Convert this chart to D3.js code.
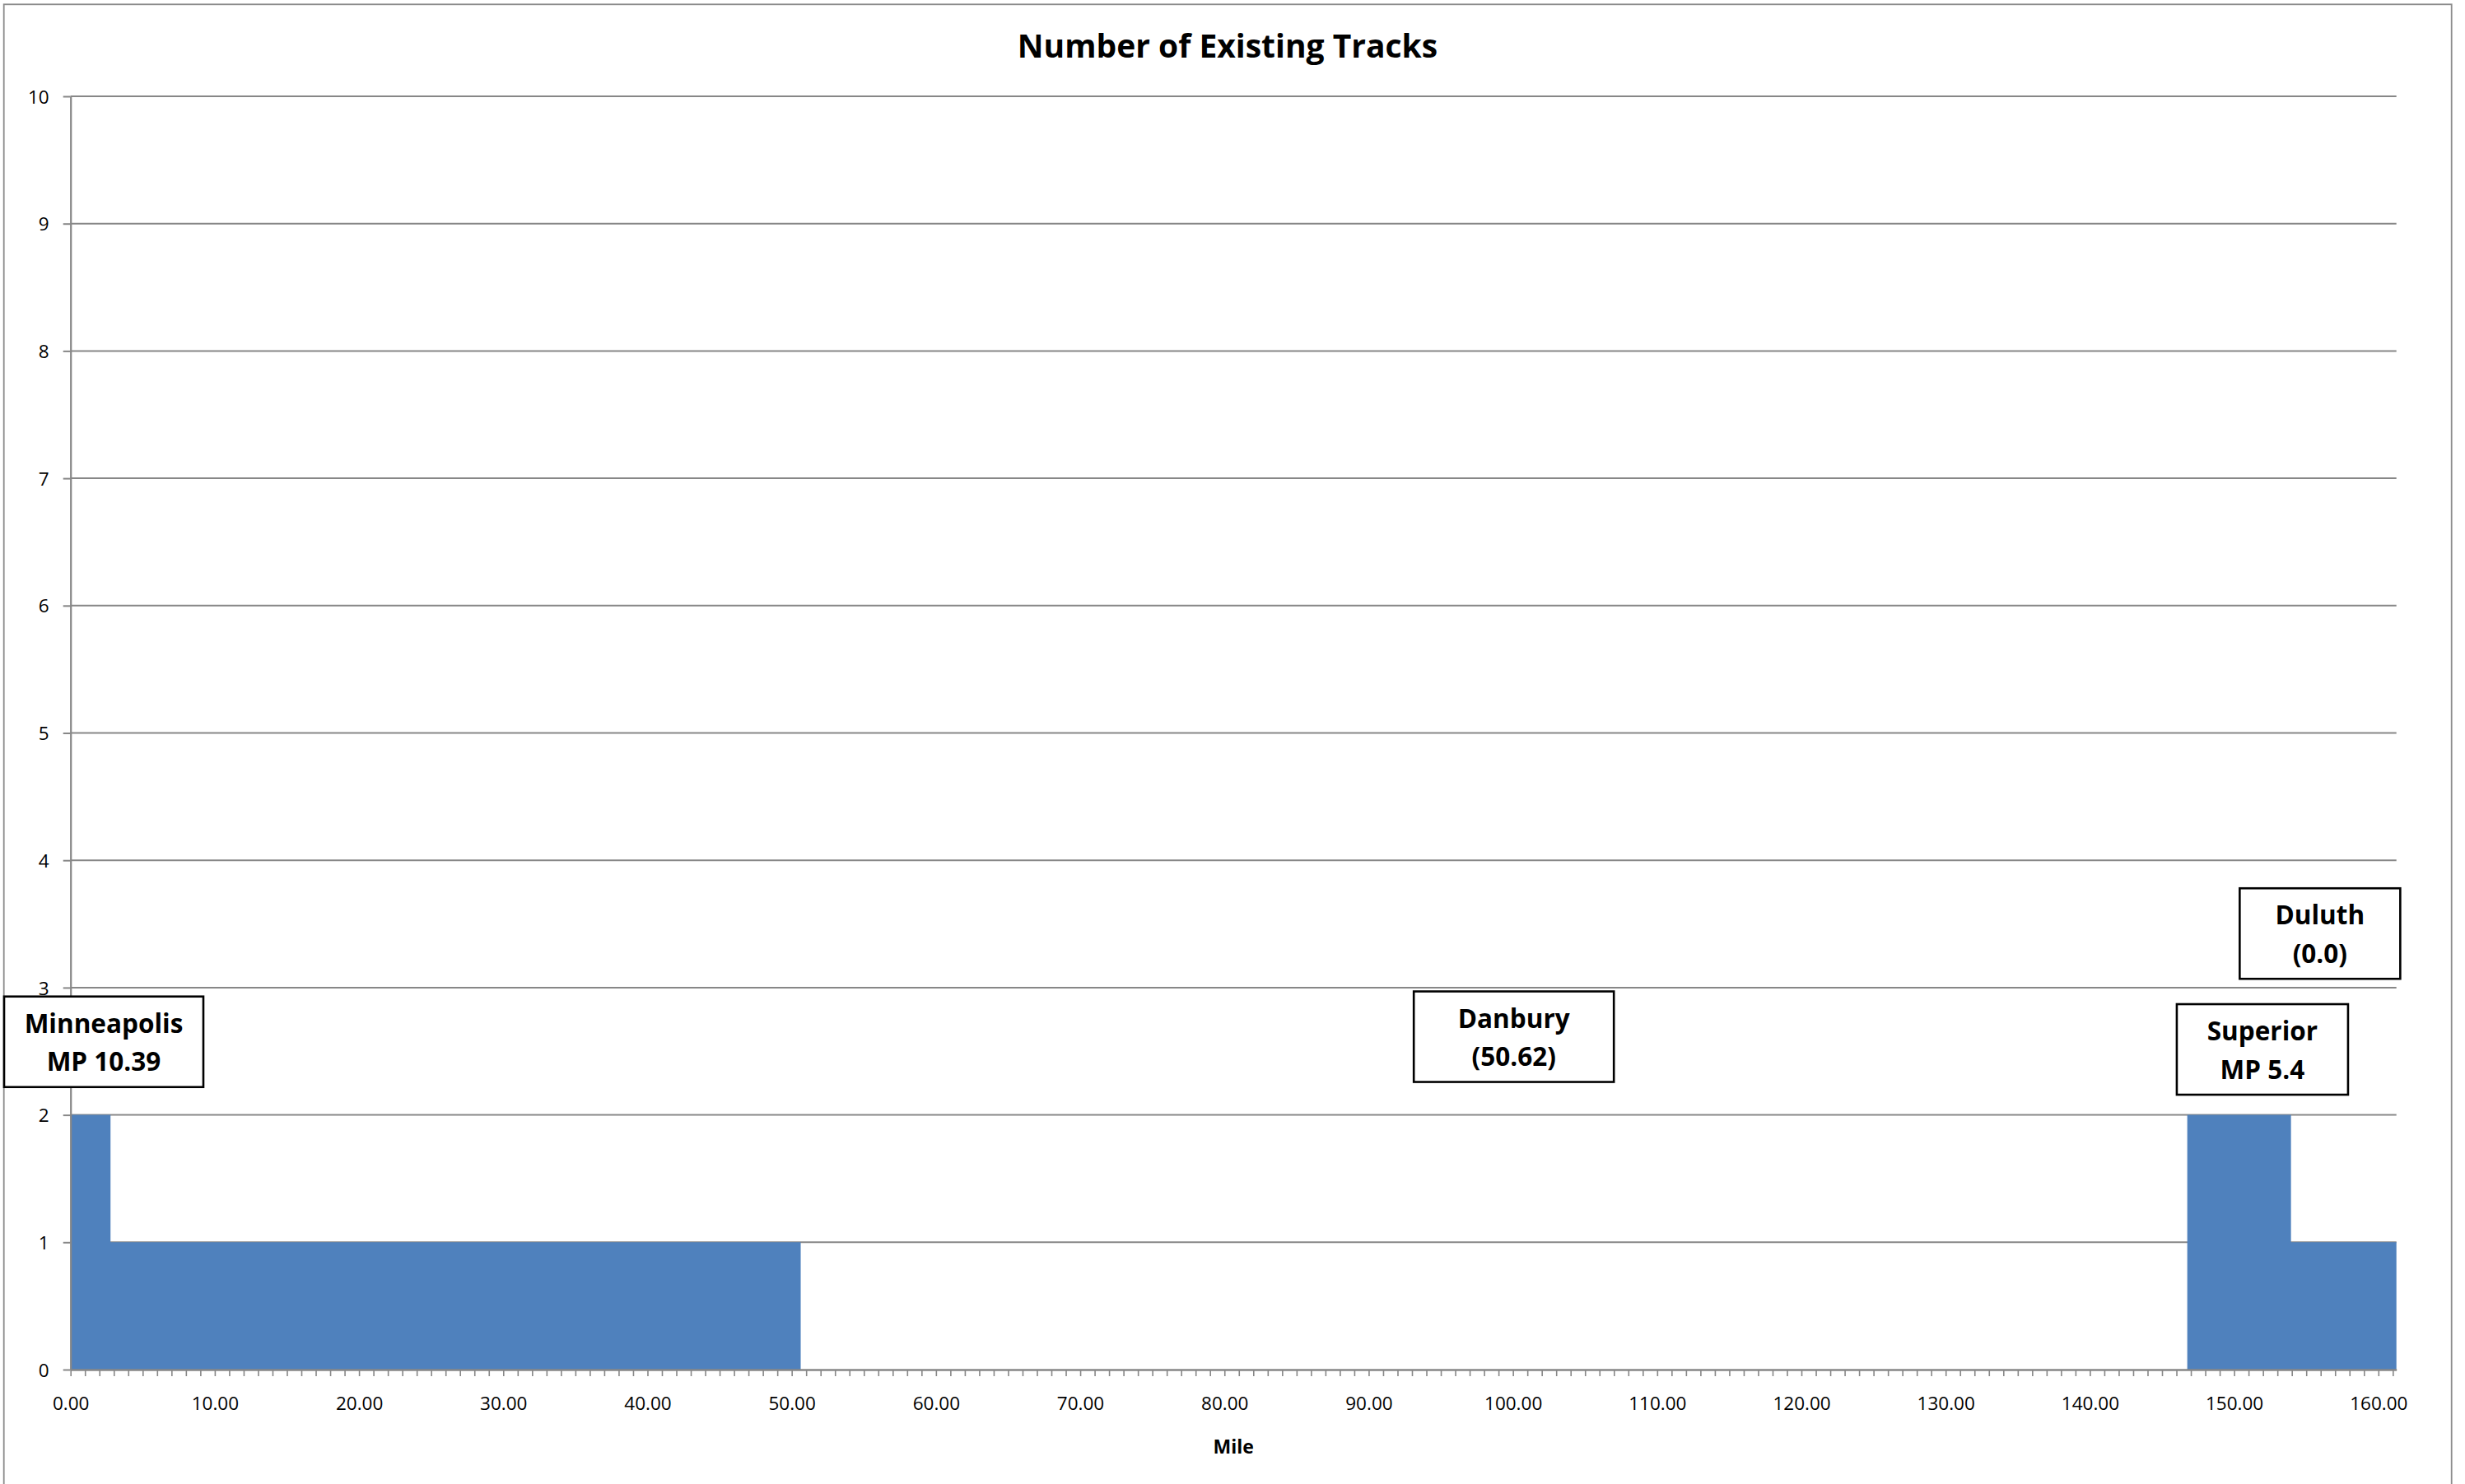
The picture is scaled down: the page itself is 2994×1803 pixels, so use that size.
<!DOCTYPE html>
<html><head><meta charset="utf-8">
<script src="https://cdn.jsdelivr.net/npm/d3@7"></script>
<style>body{margin:0;background:#fff;}</style>
</head><body>
<script>
// ---------- data ----------
const chartTitle = "Number of Existing Tracks";
const xAxisTitle = "Mile";
// breakpoints (mile) and number of tracks from that mile onward
const miles  = [0, 2.77, 50.62, 146.75, 153.94, 161.25];
const tracks = [2, 1, 0, 2, 1, 1];
const yTickValues = [0, 1, 2, 3, 4, 5, 6, 7, 8, 9, 10];
const xLabelValues = [0, 10, 20, 30, 40, 50, 60, 70, 80, 90, 100, 110, 120, 130, 140, 150, 160];
const annotationTexts = [
  ["Minneapolis", "MP 10.39"],
  ["Danbury", "(50.62)"],
  ["Duluth", "(0.0)"],
  ["Superior", "MP 5.4"]
];

// ---------- layout ----------
const W = 2994, H = 1803;
const plot = {left: 85.7, right: 2910.7, top: 117, bottom: 1664};
const gridColor = "#878787";
const fillColor = "#4F81BD";
const FONT = "'Open Sans', 'Liberation Sans', sans-serif";
// annotation anchors in data units: centre mile, top in tracks, box width px
const annotationLayout = [
  {cx: 2.3,    top: 2.93, w: 242},
  {cx: 100.06, top: 2.97, w: 243},
  {cx: 155.95, top: 3.78, w: 195},
  {cx: 151.96, top: 2.87, w: 208}
];

const svg = d3.select("body").append("svg")
  .attr("width", W).attr("height", H)
  .style("display", "block");

svg.append("rect").attr("width", W).attr("height", H).attr("fill", "#fff");

// outer chart border
svg.append("rect")
  .attr("x", 4.7).attr("y", 5.3).attr("width", 2973).attr("height", 1850)
  .attr("fill", "none").attr("stroke", "#8c8c8c").attr("stroke-width", 1.8);

const x = d3.scaleLinear().domain([0, 161.25]).range([plot.left, plot.right]);
const y = d3.scaleLinear().domain([0, 10]).range([plot.bottom, plot.top]);

// gridlines
svg.append("g").selectAll("line")
  .data(yTickValues.filter(d => d > 0))
  .join("line")
  .attr("x1", plot.left).attr("x2", plot.right)
  .attr("y1", d => y(d)).attr("y2", d => y(d))
  .attr("stroke", gridColor).attr("stroke-width", 2);

// area (step)
const pts = miles.map((m, i) => ({m, t: tracks[i]}));
const area = d3.area()
  .x(d => x(d.m))
  .y0(y(0))
  .y1(d => y(d.t))
  .curve(d3.curveStepAfter);
svg.append("path").datum(pts)
  .attr("d", area)
  .attr("fill", fillColor);

// y axis
const yAxis = d3.axisLeft(y).tickValues(yTickValues).tickSize(9).tickSizeOuter(0).tickPadding(17)
  .tickFormat(d3.format("d"));
const gy = svg.append("g").attr("transform", `translate(${plot.left},0)`).call(yAxis);
gy.select(".domain").attr("stroke", gridColor).attr("stroke-width", 2.2);
gy.selectAll(".tick line").attr("stroke", gridColor).attr("stroke-width", 2);
gy.selectAll(".tick text")
  .attr("font-family", FONT).attr("font-size", 22.5).attr("fill", "#000")
  .attr("dy", "0.36em");

// x axis
const xAxis = d3.axisBottom(x).tickValues(d3.range(0, 162)).tickSize(8).tickSizeOuter(0)
  .tickFormat(d => xLabelValues.includes(d) ? d3.format(".2f")(d) : "");
const gx = svg.append("g").attr("transform", `translate(0,${plot.bottom})`).call(xAxis);
gx.select(".domain").attr("stroke", gridColor).attr("stroke-width", 2.4);
gx.selectAll(".tick line").attr("stroke", gridColor).attr("stroke-width", 1.6);
gx.selectAll(".tick text")
  .attr("font-family", FONT).attr("font-size", 22.5).attr("fill", "#000")
  .attr("y", 49).attr("dy", null);

// titles
svg.append("text")
  .attr("x", 1491).attr("y", 70)
  .attr("text-anchor", "middle")
  .attr("font-family", FONT).attr("font-weight", "bold").attr("font-size", 39)
  .text(chartTitle);

svg.append("text")
  .attr("x", (plot.left + plot.right) / 2).attr("y", 1766)
  .attr("text-anchor", "middle")
  .attr("font-family", FONT).attr("font-weight", "bold").attr("font-size", 23)
  .text(xAxisTitle);

// annotation boxes
const boxH = 110;
annotationTexts.forEach((lines, i) => {
  const L = annotationLayout[i];
  const cx = x(L.cx), top = y(L.top);
  const g = svg.append("g");
  g.append("rect")
    .attr("x", cx - L.w / 2).attr("y", top)
    .attr("width", L.w).attr("height", boxH)
    .attr("fill", "#fff").attr("stroke", "#000").attr("stroke-width", 2.6);
  lines.forEach((t, j) => {
    g.append("text")
      .attr("x", cx).attr("y", top + 44 + j * 46.7)
      .attr("text-anchor", "middle")
      .attr("font-family", FONT).attr("font-weight", "bold").attr("font-size", 31.5)
      .text(t);
  });
});
</script>
</body></html>
